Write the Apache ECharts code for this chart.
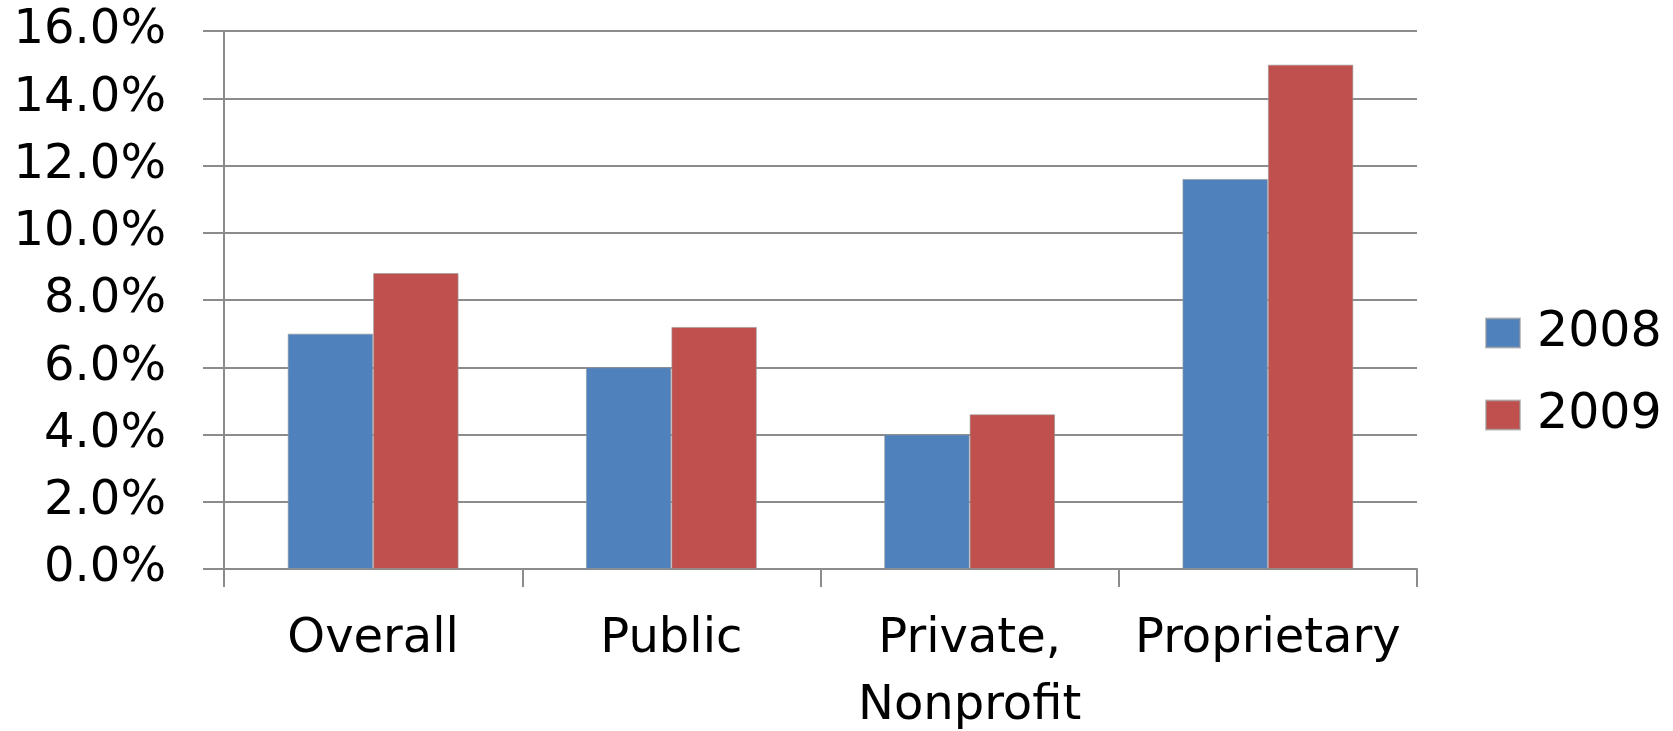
<!DOCTYPE html>
<html>
<head>
<meta charset="utf-8">
<script src="https://cdn.jsdelivr.net/npm/echarts@6/dist/echarts.min.js"></script>
<style>
html,body{margin:0;padding:0;background:#fff;}
#chart{width:1673px;height:731px;}
</style>
</head>
<body>
<div id="chart"></div>
<script>
var categories = ['Overall', 'Public', 'Private,\nNonprofit', 'Proprietary'];
var series2008 = [7.0, 6.0, 4.0, 11.6];
var series2009 = [8.8, 7.2, 4.6, 15.0];
var seriesNames = ['2008', '2009'];
var yTicks = { min: 0, max: 16, interval: 2 };

var font = 'DejaVu Sans';
var gridColor = '#8c8c8c';
var chart = echarts.init(document.getElementById('chart'));
chart.setOption({
  animation: false,
  backgroundColor: '#ffffff',
  grid: { left: 224, right: 256, top: 31, bottom: 162, containLabel: false, outerBoundsMode: 'none' },
  legend: {
    orient: 'vertical',
    left: 1480,
    top: 303,
    itemWidth: 34,
    itemHeight: 29,
    itemGap: 32,
    icon: 'rect',
    data: seriesNames,
    textStyle: { fontFamily: font, fontSize: 49, color: '#000', lineHeight: 50, padding: [0, 0, 0, 12] }
  },
  xAxis: {
    type: 'category',
    data: categories,
    axisLine: { lineStyle: { color: gridColor, width: 2 } },
    axisTick: { show: true, length: 18, lineStyle: { color: gridColor, width: 2 } },
    axisLabel: { fontFamily: font, fontSize: 48, color: '#000', margin: 37, lineHeight: 67, interval: 0 }
  },
  yAxis: {
    type: 'value',
    min: yTicks.min, max: yTicks.max, interval: yTicks.interval,
    axisLine: { show: true, lineStyle: { color: gridColor, width: 2 } },
    axisTick: { show: true, length: 21, lineStyle: { color: gridColor, width: 2 } },
    splitLine: { show: true, lineStyle: { color: gridColor, width: 2 } },
    axisLabel: { fontFamily: font, fontSize: 48, color: '#000', margin: 58,
      formatter: function (v) { return v.toFixed(1) + '%'; } }
  },
  series: [
    { name: seriesNames[0], type: 'bar', data: series2008, barGap: '0%', barCategoryGap: '42.7%',
      itemStyle: { color: '#4F81BD', borderColor: 'rgba(150,150,150,0.6)', borderWidth: 1 } },
    { name: seriesNames[1], type: 'bar', data: series2009, barGap: '0%', barCategoryGap: '42.7%',
      itemStyle: { color: '#C0504D', borderColor: 'rgba(150,150,150,0.6)', borderWidth: 1 } }
  ]
});
</script>
</body>
</html>
